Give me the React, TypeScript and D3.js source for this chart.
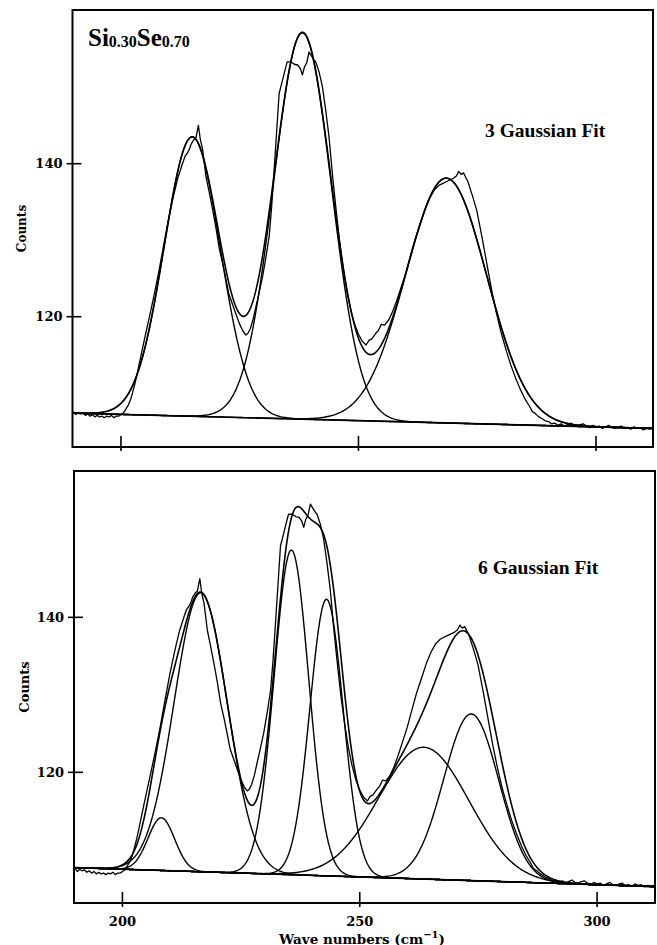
import React from "react";
import * as d3 from "d3";

const specX = [190,190.5,191,191.5,192,192.5,193,193.5,194,194.5,195,195.5,196,196.5,197,197.5,198,198.5,199,199.5,200,200.5,201,201.5,202,202.5,203,203.5,204,205,206,207,208,209,210,211,212,213,213.5,214,214.4,214.8,215.3,215.8,216.3,216.7,217.2,217.9,218.5,219.3,220,220.7,221.4,222,222.7,223.5,224.3,225,225.7,226.3,226.7,227.2,227.8,228.4,229,229.8,230.5,231.2,231.7,232.2,232.7,233.3,234,234.6,235,235.8,236.5,237.2,237.8,238.2,238.6,239.1,239.6,240.1,240.6,241,241.7,242.4,243.1,243.8,244.5,245.2,246,246.8,247.6,248.4,249.2,250,250.8,251.6,252.2,252.8,253.6,254.2,254.8,255.5,256.4,257.2,258.1,259,260,261,262,263,264,265,266,267,268,269,270,270.6,271.1,271.6,272.1,273,274,274.9,276,277,278,279,280,281,282,283,284,285,286,286.6,287.3,288,288.6,289.3,290,290.6,291.3,292,292.7,293.3,294,294.7,295.3,296,296.7,297.3,298,298.7,299.3,300,300.7,301.3,302,302.7,303.3,304,304.7,305.3,306,306.7,307.3,308,308.7,309.3,310,310.7,311.3,312];
const specY = [107.6,107.2,107.5,107.3,107.4,107.1,107.3,107.0,107.2,106.9,107.1,106.9,107.0,106.8,107.0,106.9,107.1,106.8,107.0,107.0,107.2,107.4,107.9,108.4,109.1,110.2,111.4,112.8,114.3,117.2,120.0,122.9,126.0,129.4,132.7,135.6,138.2,140.1,141.0,141.4,141.9,142.6,143.1,143.4,145.0,143.2,141.8,138.3,136.5,134.0,131.6,128.9,127.0,125.2,123.0,121.6,120.2,119.0,118.1,117.6,117.8,118.4,119.6,121.3,122.9,125.2,127.7,130.5,134.2,138.8,143.5,149.2,150.9,152.4,153.3,153.3,153.0,152.9,152.4,151.6,152.6,153.2,154.6,154.1,153.6,153.3,152.0,150.1,147.0,143.5,138.7,134.5,130.0,126.3,123.2,120.8,119.0,117.7,116.8,116.3,116.9,117.1,117.8,118.2,119.0,118.9,119.6,120.7,122.2,123.9,125.8,128.1,130.3,132.1,134.0,135.5,136.6,137.2,137.5,137.8,138.1,138.4,139.0,138.6,138.8,137.7,135.8,133.9,130.4,127.0,123.6,120.6,118.0,115.8,113.8,112.1,110.6,109.3,108.3,107.6,107.3,106.9,106.7,106.4,106.3,106.0,106.1,105.8,106.0,105.7,105.9,106.1,105.8,105.7,105.9,106.0,105.7,105.5,105.8,105.6,105.7,105.4,105.6,105.8,105.5,105.4,105.6,105.7,105.4,105.5,105.3,105.6,105.4,105.5,105.2,105.4,105.3,105.4];

// 3 Gaussian fit parameters
const fit3Centers = [215, 238.2, 268.5];
const fit3Heights = [36.5, 50.5, 32];
const fit3Sigmas = [5.9, 6.1, 8.5];
const fit3Baseline = [107.4, 105.4]; // at 190 and 312

// 6 Gaussian fit parameters
const fit6Centers = [208.2, 216.5, 235.6, 243.0, 263.5, 273.5];
const fit6Heights = [6.8, 36, 41.9, 35.7, 17, 21.5];
const fit6Sigmas = [2.8, 5.6, 3.65, 3.5, 9.5, 5.8];
const fit6Baseline = [107.7, 105.26];

const baselineX = [190, 312];
const xTicks = [200, 250, 300];
const yTicks = [120, 140];

const TICK_FONT = "'DejaVu Serif', serif";
const TEXT_FONT = "'Liberation Serif', 'Times New Roman', serif";

type PanelProps = {
  left: number; right: number; top: number; bottom: number;
  xDomain: [number, number]; yDomain: [number, number];
  centers: number[]; heights: number[]; sigmas: number[]; base: number[];
  countsSize: number; countsX: number; showXLabels: boolean;
};

function Panel(p: PanelProps) {
  const x = d3.scaleLinear().domain(p.xDomain).range([p.left, p.right]);
  const y = d3.scaleLinear().domain(p.yDomain).range([p.bottom, p.top]);
  const baseFn = d3.scaleLinear().domain(baselineX).range(p.base);
  const gauss = (i: number, v: number) =>
    p.heights[i] * Math.exp(-((v - p.centers[i]) ** 2) / (2 * p.sigmas[i] ** 2));
  const grid = d3.range(p.xDomain[0], p.xDomain[1] + 0.001, 0.25);
  const line = d3.line<[number, number]>().x((d) => x(d[0])).y((d) => y(d[1])).curve(d3.curveLinear);
  const clipId = `clip-${p.top}`;

  const components = p.centers.map((_, i) =>
    line(grid.map((v) => [v, baseFn(v) + gauss(i, v)] as [number, number]))
  );
  const fit = line(
    grid.map((v) => [v, baseFn(v) + p.centers.reduce((s, _c, i) => s + gauss(i, v), 0)] as [number, number])
  );
  const data = line(specX.map((v, i) => [v, specY[i]] as [number, number]));
  const baseLine = line(p.xDomain.map((v) => [v, baseFn(v)] as [number, number]));

  const midY = (p.top + p.bottom) / 2;
  return (
    <g>
      <defs>
        <clipPath id={clipId}>
          <rect x={p.left} y={p.top} width={p.right - p.left} height={p.bottom - p.top} />
        </clipPath>
      </defs>
      <g clipPath={`url(#${clipId})`} fill="none" stroke="#000">
        <path d={baseLine || ""} strokeWidth={1.6} />
        {components.map((d, i) => (
          <path key={i} d={d || ""} strokeWidth={1.4} />
        ))}
        <path d={fit || ""} strokeWidth={1.6} />
        <path d={data || ""} strokeWidth={1.3} strokeLinejoin="round" />
      </g>
      <rect x={p.left} y={p.top} width={p.right - p.left} height={p.bottom - p.top}
        fill="none" stroke="#000" strokeWidth={2} />
      {xTicks.map((t) => (
        <g key={t}>
          <line x1={x(t)} x2={x(t)} y1={p.bottom - 11} y2={p.bottom + 4} stroke="#000" strokeWidth={1.6} />
          {p.showXLabels && (
            <text x={x(t)} y={p.bottom + 23} textAnchor="middle" fontFamily={TICK_FONT}
              fontWeight="bold" fontSize={13}>{t}</text>
          )}
        </g>
      ))}
      {yTicks.map((t) => (
        <g key={t}>
          <line x1={p.left - 6} x2={p.left + 9} y1={y(t)} y2={y(t)} stroke="#000" strokeWidth={1.6} />
          <text x={p.left - 10} y={y(t)} dy="0.36em" textAnchor="end" fontFamily={TICK_FONT}
            fontWeight="bold" fontSize={13}>{t}</text>
        </g>
      ))}
      <text transform={`translate(${p.countsX},${midY}) rotate(-90)`} textAnchor="middle"
        dy="0.35em" fontFamily={TICK_FONT} fontWeight="bold" fontSize={p.countsSize}>Counts</text>
    </g>
  );
}

export default function App() {
  return (
    <svg width={657} height={945} style={{ position: "absolute", left: 0, top: 0, background: "#fff" }}>
      <rect x={0} y={0} width={657} height={945} fill="#fff" />
      <Panel left={72.5} right={653} top={10} bottom={447}
        xDomain={[189.8, 312]} yDomain={[102.97, 160.09]}
        centers={fit3Centers} heights={fit3Heights} sigmas={fit3Sigmas} base={fit3Baseline}
        countsSize={12} countsX={22} showXLabels={false} />
      <Panel left={74} right={655} top={471} bottom={903}
        xDomain={[189.8, 312.2]} yDomain={[103.14, 158.88]}
        centers={fit6Centers} heights={fit6Heights} sigmas={fit6Sigmas} base={fit6Baseline}
        countsSize={13} countsX={24} showXLabels={true} />
      <text x={88} y={46} fontFamily={TEXT_FONT} fontWeight="bold" fontSize={25}>
        Si<tspan fontSize={16} dy={1}>0.30</tspan><tspan dy={-1}>Se</tspan><tspan fontSize={16} dy={1}>0.70</tspan>
      </text>
      <text x={485} y={137} fontFamily={TEXT_FONT} fontWeight="bold" fontSize={19.5}>3 Gaussian Fit</text>
      <text x={478} y={574} fontFamily={TEXT_FONT} fontWeight="bold" fontSize={19.5}>6 Gaussian Fit</text>
      <text x={362} y={943.5} textAnchor="middle" fontFamily={TICK_FONT} fontWeight="bold" fontSize={13.5}>
        Wave numbers (cm<tspan fontSize={10} dy={-6}>−1</tspan><tspan dy={6}>)</tspan>
      </text>
    </svg>
  );
}
